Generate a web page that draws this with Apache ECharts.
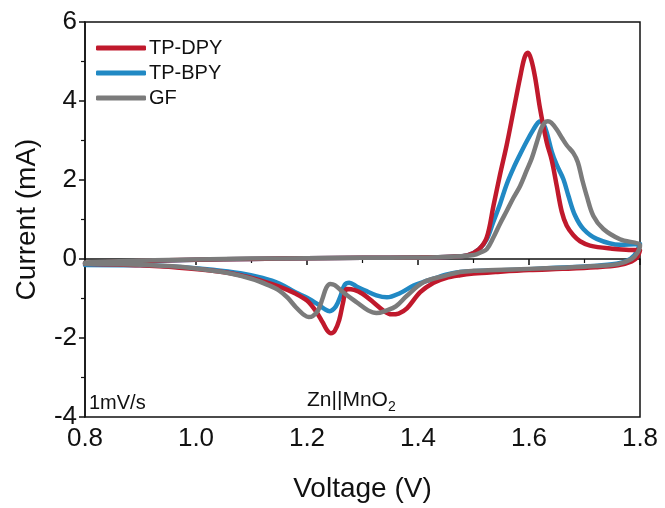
<!DOCTYPE html>
<html>
<head>
<meta charset="utf-8">
<script src="https://cdn.jsdelivr.net/npm/echarts@6/dist/echarts.min.js"></script>
<style>html,body{margin:0;padding:0;background:#fff}#c{width:665px;height:508px}</style>
</head>
<body>
<div id="c"></div>
<script>
// ---- data (voltage V, current mA), each curve as a closed CV loop ----
var seriesNames = ['TP-DPY', 'TP-BPY', 'GF'];
var xTicks = [0.8, 1.0, 1.2, 1.4, 1.6, 1.8];
var yTicks = [-4, -2, 0, 2, 4, 6];

var dpyV = [0.8,0.9,1.0,1.1,1.2,1.3,1.4,1.46,1.49,1.51,1.524,1.536,1.548,1.56,1.572,1.584,1.592,1.598,1.604,1.611,1.62,1.632,1.641,1.65,1.659,1.668,1.68,1.692,1.71,1.75,1.78,1.8,
            1.795,1.785,1.76,1.72,1.66,1.6,1.54,1.5,1.476,1.45,1.428,1.404,1.38,1.365,1.352,1.34,1.32,1.3,1.285,1.272,1.265,1.258,1.25,1.243,1.236,1.228,1.215,1.2,1.18,1.15,1.12,1.08,1.03,0.97,0.9,0.8];
var dpyI = [-0.10,-0.05,-0.02,0.0,0.02,0.03,0.04,0.06,0.10,0.25,0.55,1.35,2.15,2.9,3.75,4.6,5.1,5.22,5.05,4.6,3.8,2.95,2.5,1.85,1.2,0.84,0.6,0.45,0.34,0.26,0.23,0.22,
            0.05,-0.06,-0.16,-0.21,-0.25,-0.28,-0.33,-0.37,-0.41,-0.48,-0.6,-0.84,-1.25,-1.38,-1.4,-1.33,-1.1,-0.88,-0.78,-0.76,-1.1,-1.55,-1.82,-1.88,-1.8,-1.6,-1.3,-1.05,-0.88,-0.7,-0.56,-0.41,-0.3,-0.22,-0.16,-0.12];

var bpyV = [0.8,0.9,1.0,1.1,1.2,1.3,1.4,1.46,1.49,1.51,1.524,1.536,1.548,1.56,1.572,1.584,1.596,1.608,1.616,1.621,1.626,1.632,1.641,1.65,1.662,1.671,1.683,1.698,1.722,1.764,1.8,
            1.79,1.775,1.75,1.7,1.64,1.58,1.52,1.476,1.45,1.428,1.41,1.392,1.368,1.344,1.325,1.305,1.29,1.276,1.268,1.26,1.252,1.241,1.232,1.22,1.2,1.18,1.15,1.12,1.08,1.03,0.97,0.9,0.8];
var bpyI = [-0.12,-0.06,-0.02,0.0,0.02,0.03,0.04,0.06,0.10,0.25,0.5,0.95,1.4,1.9,2.3,2.65,2.98,3.28,3.45,3.49,3.42,3.2,2.72,2.38,2.02,1.6,1.1,0.76,0.51,0.36,0.38,
            0.1,-0.05,-0.13,-0.19,-0.23,-0.27,-0.3,-0.33,-0.4,-0.5,-0.58,-0.67,-0.86,-0.97,-0.92,-0.8,-0.7,-0.6,-0.65,-0.95,-1.2,-1.32,-1.27,-1.15,-0.98,-0.85,-0.62,-0.48,-0.36,-0.27,-0.2,-0.16,-0.15];

var gfV = [0.8,0.9,1.0,1.1,1.2,1.3,1.4,1.46,1.5,1.515,1.524,1.536,1.548,1.56,1.572,1.584,1.596,1.605,1.614,1.622,1.628,1.634,1.64,1.65,1.66,1.668,1.68,1.688,1.696,1.704,1.716,1.734,1.764,1.8,
           1.795,1.785,1.76,1.72,1.66,1.6,1.54,1.5,1.476,1.45,1.41,1.38,1.36,1.344,1.325,1.31,1.29,1.265,1.25,1.242,1.235,1.228,1.22,1.21,1.203,1.195,1.18,1.165,1.15,1.13,1.1,1.06,1.0,0.95,0.88,0.8];
var gfI = [-0.09,-0.04,-0.01,0.01,0.02,0.03,0.04,0.06,0.10,0.18,0.25,0.55,0.9,1.22,1.55,1.85,2.25,2.55,2.95,3.3,3.45,3.49,3.45,3.28,3.05,2.88,2.68,2.45,2.0,1.6,1.09,0.76,0.5,0.34,
           0.15,0.0,-0.13,-0.18,-0.22,-0.25,-0.28,-0.3,-0.33,-0.42,-0.59,-0.93,-1.2,-1.3,-1.37,-1.3,-1.1,-0.84,-0.66,-0.63,-0.72,-1.0,-1.3,-1.45,-1.47,-1.42,-1.22,-0.98,-0.8,-0.66,-0.5,-0.36,-0.24,-0.18,-0.14,-0.12];

var colors = {'TP-DPY': '#c0192c', 'TP-BPY': '#2189c4', 'GF': '#7b7b7b'};

function zip(a, b) { return a.map(function (v, i) { return [v, b[i]]; }); }
var curves = {'TP-DPY': zip(dpyV, dpyI), 'TP-BPY': zip(bpyV, bpyI), 'GF': zip(gfV, gfI)};

var FONT = 'Liberation Sans, Arial, sans-serif';
var chart = echarts.init(document.getElementById('c'), null, {renderer: 'canvas'});

var drawOrder = ['TP-BPY', 'TP-DPY', 'GF'];
var series = drawOrder.map(function (n) {
  return {
    name: n, type: 'line', data: curves[n], smooth: 0.35, symbol: 'none',
    lineStyle: {color: colors[n], width: 4.5, cap: 'round', join: 'round'},
    itemStyle: {color: colors[n]}, clip: true, z: 2
  };
});

chart.setOption({
  animation: false,
  backgroundColor: '#fff',
  grid: {left: 85, right: 25, top: 22, bottom: 90, show: true, borderColor: '#111', borderWidth: 1.5, backgroundColor: 'transparent'},
  legend: {
    data: seriesNames, orient: 'vertical', left: 91, top: 33, itemWidth: 50, itemHeight: 5, itemGap: 5,
    icon: 'roundRect',
    textStyle: {fontFamily: FONT, fontSize: 20, color: '#111', lineHeight: 20, padding: [0, 0, 0, -2]}
  },
  xAxis: {
    type: 'value', min: xTicks[0], max: xTicks[xTicks.length - 1], interval: 0.2,
    name: 'Voltage (V)', nameLocation: 'middle', nameGap: 58,
    nameTextStyle: {fontFamily: FONT, fontSize: 28, color: '#111'},
    axisLine: {show: true, lineStyle: {color: '#111', width: 1.5}},
    axisTick: {show: true, inside: false, length: 6, lineStyle: {color: '#111', width: 1.5}},
    minorTick: {show: true, splitNumber: 2, length: 4, lineStyle: {color: '#111', width: 1.2}},
    axisLabel: {fontFamily: FONT, fontSize: 26, color: '#111', margin: 9, formatter: function (v) { return v.toFixed(1); }},
    splitLine: {show: false}
  },
  yAxis: {
    type: 'value', min: yTicks[0], max: yTicks[yTicks.length - 1], interval: 2,
    name: 'Current (mA)', nameLocation: 'middle', nameGap: 44, nameRotate: 90,
    nameTextStyle: {fontFamily: FONT, fontSize: 28, color: '#111'},
    axisLine: {show: true, onZero: false, lineStyle: {color: '#111', width: 1.5}},
    axisTick: {show: true, inside: false, length: 6, lineStyle: {color: '#111', width: 1.5}},
    minorTick: {show: true, splitNumber: 2, length: 4, lineStyle: {color: '#111', width: 1.2}},
    axisLabel: {fontFamily: FONT, fontSize: 26, color: '#111', margin: 8},
    splitLine: {show: false}
  },
  graphic: [
    {type: 'text', left: 89, top: 393, style: {text: '1mV/s', fontFamily: FONT, fontSize: 20, fill: '#111'}},
    {type: 'text', left: 307, top: 390, style: {
      text: 'Zn||MnO{s|2}', fontFamily: FONT, fontSize: 21, fill: '#111',
      rich: {s: {fontFamily: FONT, fontSize: 14, fill: '#111', padding: [13, 0, 0, 0]}}
    }}
  ],
  series: series
});
</script>
</body>
</html>
